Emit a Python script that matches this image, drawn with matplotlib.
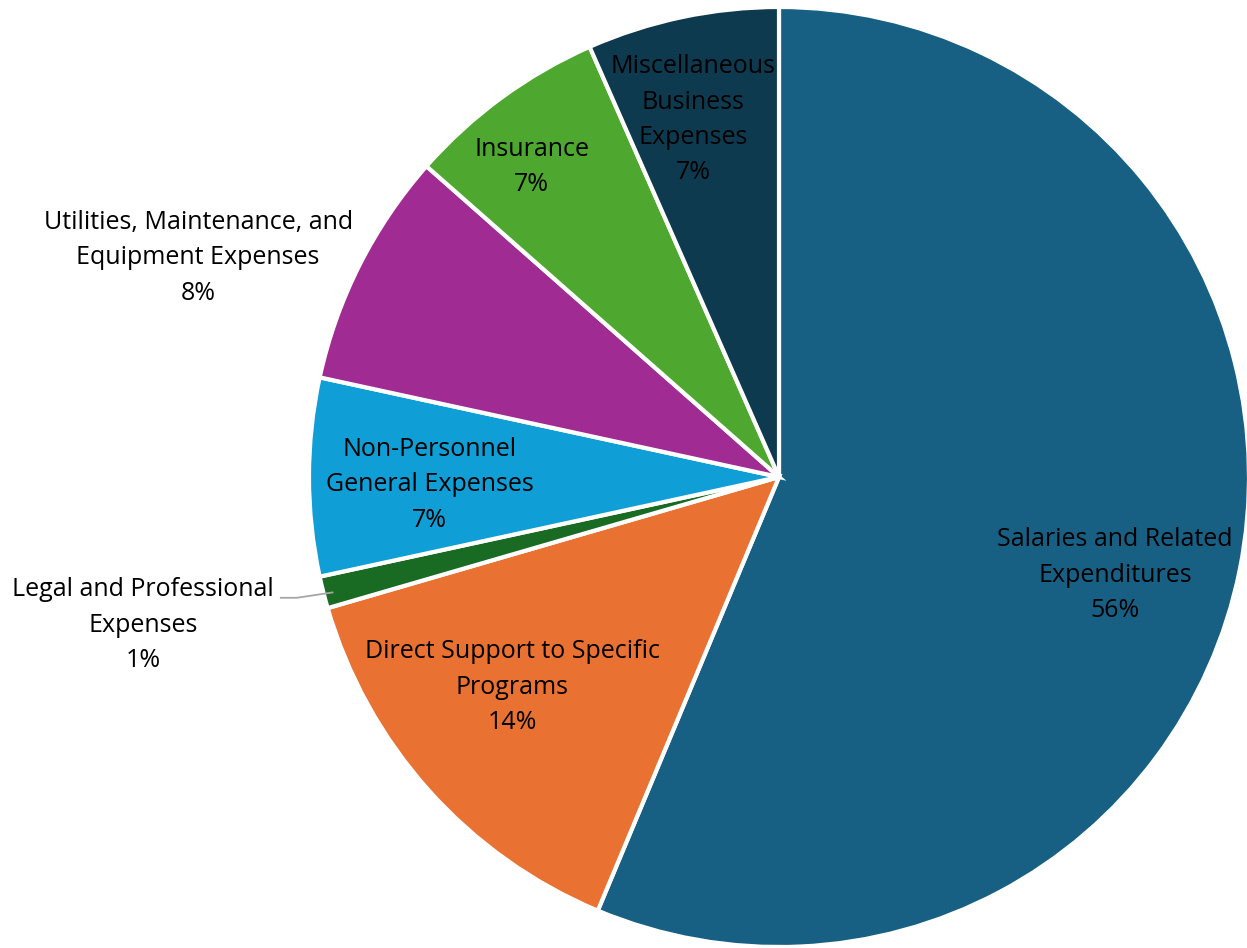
import numpy as np
import matplotlib.pyplot as plt

categories = [
    "Salaries and Related\nExpenditures",
    "Direct Support to Specific\nPrograms",
    "Legal and Professional\nExpenses",
    "Non-Personnel\nGeneral Expenses",
    "Utilities, Maintenance, and\nEquipment Expenses",
    "Insurance",
    "Miscellaneous\nBusiness\nExpenses",
]
values = [56.3, 14.2, 1.1, 6.8, 8.1, 6.9, 6.6]
pct_labels = ["56%", "14%", "1%", "7%", "8%", "7%", "7%"]

colors = ["#176084", "#E97132", "#196B24", "#0F9ED5", "#A02B93", "#4EA72E", "#0E3A4F"]
# label centres in data units (pie radius = 1)
label_pos = [(0.715, -0.209), (-0.568, -0.447), (-1.353, -0.315), (-0.743, -0.017),
             (-1.236, 0.466), (-0.526, 0.660), (-0.183, 0.760)]

plt.rcParams['font.family'] = ['Open Sans', 'DejaVu Sans']

fig = plt.figure(figsize=(12.47, 9.48), dpi=100)
ax = fig.add_axes([0, 0, 1, 1])

wedges, _ = ax.pie(values, colors=colors, startangle=90, counterclock=False,
                   radius=1, wedgeprops=dict(edgecolor="white", linewidth=3))

for i, w in enumerate(wedges):
    x, y = label_pos[i]
    ax.text(x, y, categories[i] + "\n" + pct_labels[i], ha="center", va="center",
            fontsize=18, color="black", linespacing=1.54)

# leader line for the small slice
w = wedges[2]
mid = np.deg2rad((w.theta1 + w.theta2) / 2)
ex, ey = np.cos(mid), np.sin(mid)
ax.plot([-1.060, -1.026, ex * 0.98], [-0.257, -0.257, ey],
        color="#A6A6A6", linewidth=1.3)

ax.set_xlim(-779 / 470, (1247 - 779) / 470)
ax.set_ylim(-471 / 470, 477 / 470)
ax.set_aspect("equal")
ax.axis("off")

fig.savefig("out.png", dpi=100)
